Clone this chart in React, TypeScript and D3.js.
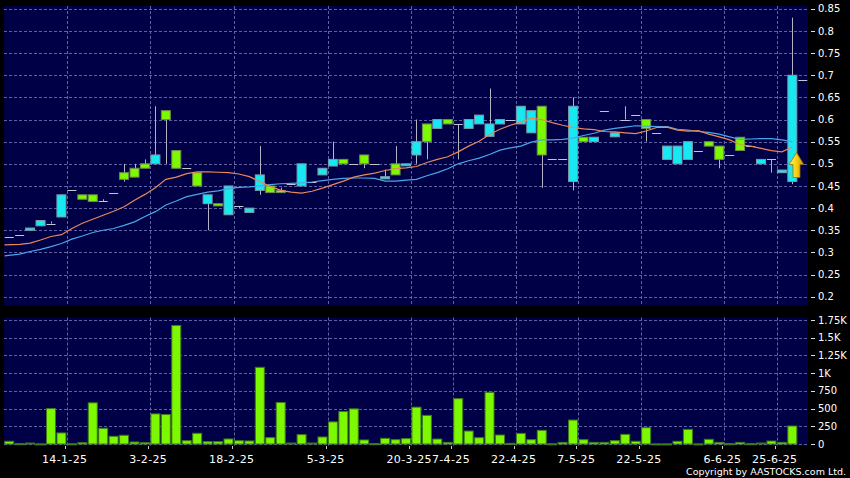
import React from "react";
import * as d3 from "d3";

// ---- Data ----
const opens = [0.335,0.34,0.35,0.36,0.365,0.38,0.44,0.43,0.43,0.415,
  0.435,0.48,0.49,0.50,0.50,0.62,0.53,0.49,0.48,0.41,
  0.41,0.385,0.405,0.39,0.44,0.45,0.44,0.455,0.45,0.46,
  0.475,0.495,0.51,0.50,0.52,0.50,0.466,0.50,0.497,0.52,
  0.59,0.58,0.60,0.59,0.58,0.59,0.562,0.59,0.60,0.59,
  0.57,0.63,0.51,0.51,0.46,0.56,0.55,0.62,0.561,0.60,
  0.61,0.60,0.57,0.51,0.50,0.51,0.53,0.55,0.54,0.52,
  0.56,0.54,0.50,0.51,0.48,0.46,0.69];
const highs = [0.335,0.34,0.355,0.372,0.37,0.43,0.44,0.43,0.43,0.42,
  0.435,0.50,0.50,0.51,0.63,0.62,0.53,0.49,0.48,0.43,
  0.41,0.45,0.405,0.40,0.54,0.45,0.446,0.455,0.50,0.46,
  0.49,0.55,0.51,0.50,0.52,0.50,0.487,0.54,0.50,0.60,
  0.59,0.60,0.60,0.59,0.60,0.61,0.67,0.60,0.60,0.63,
  0.62,0.63,0.51,0.51,0.65,0.56,0.56,0.62,0.57,0.63,
  0.61,0.60,0.57,0.54,0.54,0.55,0.53,0.55,0.54,0.52,
  0.56,0.54,0.51,0.51,0.486,0.83,0.69];
const lows = [0.335,0.34,0.35,0.36,0.365,0.38,0.44,0.42,0.415,0.415,
  0.435,0.46,0.47,0.49,0.50,0.50,0.49,0.49,0.45,0.35,
  0.405,0.385,0.40,0.39,0.43,0.435,0.435,0.455,0.45,0.46,
  0.475,0.495,0.50,0.50,0.49,0.50,0.466,0.475,0.497,0.50,
  0.51,0.58,0.59,0.51,0.58,0.59,0.562,0.59,0.60,0.59,
  0.57,0.446,0.51,0.51,0.44,0.55,0.55,0.62,0.561,0.60,
  0.61,0.55,0.57,0.51,0.50,0.51,0.53,0.54,0.49,0.52,
  0.53,0.54,0.50,0.48,0.48,0.454,0.69];
const closes = [0.335,0.34,0.355,0.372,0.365,0.43,0.44,0.42,0.415,0.415,
  0.435,0.465,0.47,0.49,0.52,0.60,0.49,0.49,0.45,0.43,
  0.405,0.45,0.405,0.40,0.475,0.435,0.435,0.455,0.50,0.46,
  0.49,0.51,0.50,0.50,0.50,0.50,0.471,0.475,0.50,0.55,
  0.55,0.60,0.59,0.59,0.60,0.61,0.59,0.60,0.60,0.63,
  0.62,0.52,0.51,0.51,0.63,0.55,0.56,0.62,0.57,0.60,
  0.61,0.58,0.57,0.54,0.54,0.55,0.53,0.54,0.51,0.52,
  0.53,0.54,0.51,0.51,0.486,0.70,0.69];
const volumes = [38,5,14,2,500,156,3,19,581,222,
  109,123,28,19,425,416,1673,47,151,33,
  33,71,47,43,1082,90,586,14,132,14,
  99,312,458,496,57,5,80,61,76,520,
  404,70,23,640,183,89,729,127,9,150,
  61,193,3,23,338,61,23,23,47,136,
  38,230,2,2,38,207,2,66,23,5,
  23,5,14,42,23,254,0];
const maShort = [0.317,0.318,0.321,0.328,0.336,0.34,0.354,0.366,0.375,0.384,
  0.393,0.403,0.418,0.431,0.446,0.465,0.47,0.478,0.482,0.482,
  0.481,0.48,0.477,0.471,0.46,0.449,0.44,0.436,0.434,0.438,
  0.445,0.453,0.461,0.47,0.475,0.479,0.485,0.489,0.491,0.494,
  0.503,0.51,0.516,0.527,0.54,0.551,0.566,0.578,0.587,0.594,
  0.603,0.6,0.593,0.587,0.582,0.579,0.577,0.573,0.572,0.57,
  0.568,0.574,0.582,0.583,0.576,0.574,0.575,0.567,0.561,0.554,
  0.543,0.54,0.535,0.53,0.527,0.538];
const maLong = [0.292,0.296,0.302,0.307,0.313,0.32,0.33,0.337,0.345,0.35,
  0.354,0.361,0.369,0.381,0.392,0.407,0.416,0.426,0.431,0.436,
  0.439,0.444,0.447,0.448,0.45,0.453,0.455,0.456,0.457,0.459,
  0.462,0.465,0.467,0.468,0.468,0.467,0.461,0.461,0.463,0.465,
  0.473,0.48,0.489,0.5,0.507,0.513,0.521,0.531,0.536,0.54,
  0.549,0.554,0.554,0.555,0.558,0.564,0.569,0.576,0.58,0.583,
  0.586,0.585,0.584,0.584,0.578,0.576,0.573,0.571,0.567,0.561,
  0.555,0.556,0.557,0.557,0.554,0.55];
const dateLabels = ["14-1-25","3-2-25","18-2-25","5-3-25","20-3-25","7-4-25","22-4-25","7-5-25","22-5-25","6-6-25","25-6-25"];
const dateIndex = [6,14,22,31,39,43,49,55,61,69,74];
const priceTicks = [0.2,0.25,0.3,0.35,0.4,0.45,0.5,0.55,0.6,0.65,0.7,0.75,0.8,0.85];
const volTicks = [0,250,500,750,1000,1250,1500,1750];
const volTickLabels = ["0","250","500","750","1K","1.25K","1.5K","1.75K"];

const W = 850, H = 478;
const PL = 4, PR = 808;
const MT = 6, MB = 306;
const VT = 317.5, VB = 446;
const NAVY = "#000046";
const GRID = "#6060a4";
const CYAN = "#18e8f2";
const GREEN = "#7cf800";
const FONT = "DejaVu Sans";

export default function App() {
  const N = closes.length;
  const x = d3.scaleBand<number>().domain(d3.range(N)).range([PL, PR]).padding(0);
  const step = x.step();
  const bw = 9;
  const cx = (i: number) => (x(i) as number) + step / 2;
  const y = d3.scaleLinear().domain([0.2, 0.85]).range([296.7, 8.8]);
  const yv = d3.scaleLinear().domain([0, 1750]).range([444, 320]);
  // moving averages continue from earlier data, so the first point sits on the panel's left edge
  const lineS = d3.line<number>().x((_, i) => (i === 0 ? PL + 0.5 : cx(i))).y(d => y(d)).curve(d3.curveLinear);
  const gridXs = dateIndex.map(k => (x(k) as number));

  return (
    <div style={{ position: "absolute", left: 0, top: 0 }}>
      <svg width={W} height={H} style={{ display: "block", background: "#000" }}>
        <rect x={0} y={0} width={W} height={H} fill="#000" />
        {/* panels */}
        <rect x={PL} y={MT} width={PR - PL} height={MB - MT} fill={NAVY} />
        <rect x={PL} y={VT} width={PR - PL} height={VB - VT} fill={NAVY} />
        {/* grid */}
        <g stroke={GRID} strokeWidth={1} strokeDasharray="3,2" fill="none">
          {priceTicks.map(t => (
            <line key={"pg" + t} x1={PL} x2={PR} y1={Math.round(y(t)) + 0.5} y2={Math.round(y(t)) + 0.5} />
          ))}
          {volTicks.map(t => (
            <line key={"vg" + t} x1={PL} x2={PR} y1={Math.round(yv(t)) + 0.5} y2={Math.round(yv(t)) + 0.5} />
          ))}
          {gridXs.map((gx, i) => (
            <g key={"vx" + i}>
              <line x1={Math.round(gx) + 0.5} x2={Math.round(gx) + 0.5} y1={MT} y2={MB} />
              <line x1={Math.round(gx) + 0.5} x2={Math.round(gx) + 0.5} y1={VT} y2={VB} />
            </g>
          ))}
        </g>
        {/* candles */}
        <g>
          {closes.map((c, i) => {
            const o = opens[i], h = highs[i], l = lows[i];
            const xc = cx(i);
            const wick = h !== l ? (
              <line x1={Math.round(xc) + 0.5} x2={Math.round(xc) + 0.5} y1={y(h)} y2={y(l)} stroke="#b4b4c4" strokeWidth={1} />
            ) : null;
            if (o === c) {
              return (
                <g key={"c" + i}>
                  {wick}
                  <line x1={xc - bw / 2} x2={xc + bw / 2} y1={Math.round(y(c)) + 0.5} y2={Math.round(y(c)) + 0.5} stroke="#c4c4d4" strokeWidth={1} />
                </g>
              );
            }
            const up = c > o;
            const top = y(Math.max(o, c));
            const bot = y(Math.min(o, c));
            return (
              <g key={"c" + i}>
                {wick}
                <rect x={xc - bw / 2} y={top} width={bw} height={Math.max(2, bot - top)}
                  fill={up ? CYAN : GREEN} stroke={up ? "#7c9aa8" : "#6e8c50"} strokeWidth={1} />
              </g>
            );
          })}
        </g>
        {/* moving averages */}
        <path d={lineS(maLong) || ""} fill="none" stroke="#4aa6ea" strokeWidth={1.2} />
        <path d={lineS(maShort) || ""} fill="none" stroke="#e8875a" strokeWidth={1.2} />
        {/* arrow marker */}
        <defs>
          <linearGradient id="arrowGrad" x1="0" x2="1" y1="0" y2="0">
            <stop offset="0" stopColor="#fff27a" />
            <stop offset="0.5" stopColor="#f7cf10" />
            <stop offset="1" stopColor="#c89400" />
          </linearGradient>
        </defs>
        <polygon points="796.5,152.5 803.8,164.5 800,164.5 800,177.5 793,177.5 793,164.5 789.2,164.5"
          fill="url(#arrowGrad)" stroke="#9a7000" strokeWidth={0.8} />
        {/* volume bars */}
        <g>
          {volumes.map((v, i) => v > 0 ? (
            <rect key={"v" + i} x={cx(i) - bw / 2} y={yv(v)} width={bw} height={Math.max(1, yv(0) - yv(v))}
              fill={GREEN} stroke="#3f7a18" strokeWidth={1} />
          ) : null)}
        </g>
        {/* price axis */}
        <g fill="#fff" fontFamily={FONT} fontSize={10}>
          {priceTicks.map(t => (
            <g key={"pt" + t}>
              <line x1={811} x2={815} y1={Math.round(y(t)) + 0.5} y2={Math.round(y(t)) + 0.5} stroke="#ddd" />
              <text x={818} y={y(t)} dy="0.36em">{d3.format("")(+t.toFixed(2))}</text>
            </g>
          ))}
          {volTicks.map((t, i) => (
            <g key={"vt" + t}>
              <line x1={811} x2={815} y1={Math.round(yv(t)) + 0.5} y2={Math.round(yv(t)) + 0.5} stroke="#ddd" />
              <text x={818} y={yv(t)} dy="0.36em">{volTickLabels[i]}</text>
            </g>
          ))}
        </g>
        {/* date axis */}
        <g fill="#fff" fontFamily={FONT} fontSize={11}>
          {dateLabels.map((lab, i) => {
            const tx = gridXs[i] - 2;
            return (
              <g key={"dl" + i}>
                <line x1={Math.round(tx) + 0.5} x2={Math.round(tx) + 0.5} y1={446} y2={449} stroke="#ccc" />
                <text x={tx} y={463} textAnchor="middle" letterSpacing="0.35">{lab}</text>
              </g>
            );
          })}
        </g>
        <text x={846} y={475} textAnchor="end" fill="#fff" fontFamily={FONT} fontSize={9.5}>Copyright by AASTOCKS.com Ltd.</text>
      </svg>
    </div>
  );
}
